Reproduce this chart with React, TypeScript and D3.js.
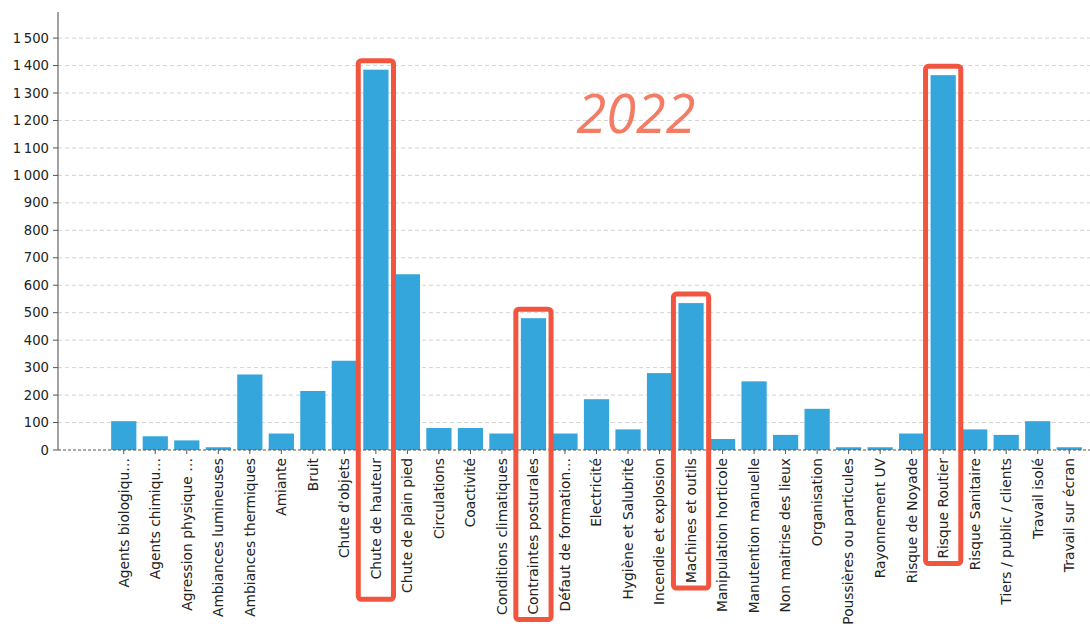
import { useRef, useEffect } from 'react';
import * as d3 from 'd3';

const categories = [
  'Agents biologiqu…',
  'Agents chimiqu…',
  'Agression physique …',
  'Ambiances lumineuses',
  'Ambiances thermiques',
  'Amiante',
  'Bruit',
  "Chute d'objets",
  'Chute de hauteur',
  'Chute de plain pied',
  'Circulations',
  'Coactivité',
  'Conditions climatiques',
  'Contraintes posturales',
  'Défaut de formation…',
  'Electricité',
  'Hygiène et Salubrité',
  'Incendie et explosion',
  'Machines et outils',
  'Manipulation horticole',
  'Manutention manuelle',
  'Non maitrise des lieux',
  'Organisation',
  'Poussières ou particules',
  'Rayonnement UV',
  'Risque de Noyade',
  'Risque Routier',
  'Risque Sanitaire',
  'Tiers / public / clients',
  'Travail isolé',
  'Travail sur écran',
];
const counts = [
  105, 50, 35, 10, 275, 60, 215, 325, 1385, 640, 80, 80, 60, 480, 60, 185, 75, 280, 535, 40, 250, 55,
  150, 10, 10, 60, 1365, 75, 55, 105, 10,
];
const yTicks = [0, 100, 200, 300, 400, 500, 600, 700, 800, 900, 1000, 1100, 1200, 1300, 1400, 1500];
const highlighted = ['Chute de hauteur', 'Contraintes posturales', 'Machines et outils', 'Risque Routier'];
const yearLabel = '2022';

const width = 1090;
const height = 640;

export default function App() {
  const ref = useRef<SVGSVGElement>(null);

  useEffect(() => {
    document.body.style.margin = '0';
    const svg = d3.select(ref.current);
    svg.selectAll('*').remove();

    const x = d3.scaleBand().domain(categories).range([108, 1085]).paddingInner(0.2).paddingOuter(0.1);
    const y = d3.scaleLinear().domain([0, 1595]).range([450, 12]);
    const fmt = d3.formatLocale({ decimal: ',', thousands: '\u2009', grouping: [3], currency: ['', '€'] }).format(',d');

    // grille
    svg
      .append('g')
      .selectAll('line')
      .data(yTicks.filter((d) => d > 0))
      .join('line')
      .attr('x1', 58)
      .attr('x2', width)
      .attr('y1', (d) => y(d))
      .attr('y2', (d) => y(d))
      .attr('stroke', '#c8c8c8')
      .attr('stroke-width', 0.8)
      .attr('stroke-dasharray', '4,3');

    // barres
    svg
      .append('g')
      .selectAll('rect')
      .data(categories)
      .join('rect')
      .attr('x', (d) => x(d)!)
      .attr('width', x.bandwidth())
      .attr('y', (_, i) => y(counts[i]))
      .attr('height', (_, i) => y(0) - y(counts[i]))
      .attr('fill', '#34a6dc');

    // ligne de base
    svg
      .append('line')
      .attr('x1', 58)
      .attr('x2', width)
      .attr('y1', y(0))
      .attr('y2', y(0))
      .attr('stroke', '#555')
      .attr('stroke-width', 1)
      .attr('stroke-dasharray', '3,2');

    // axe Y
    const gy = svg.append('g').attr('transform', 'translate(58,0)');
    gy.append('line').attr('x1', 0).attr('x2', 0).attr('y1', 12).attr('y2', y(0)).attr('stroke', '#666').attr('stroke-width', 1.2);
    const yt = gy.selectAll('g.t').data(yTicks).join('g').attr('class', 't').attr('transform', (d) => `translate(0,${y(d)})`);
    yt.append('line').attr('x1', -5).attr('x2', 0).attr('stroke', '#555');
    yt.append('text')
      .attr('x', -9)
      .attr('dy', '0.35em')
      .attr('text-anchor', 'end')
      .attr('font-family', 'DejaVu Sans')
      .attr('font-size', 13.2)
      .attr('fill', '#222')
      .text((d) => fmt(d));

    // axe X
    const xt = svg
      .append('g')
      .selectAll('g')
      .data(categories)
      .join('g')
      .attr('transform', (d) => `translate(${x(d)! + x.bandwidth() / 2},${y(0)})`);
    xt.append('line').attr('y1', 0).attr('y2', 4).attr('stroke', '#555');
    const labels = xt
      .append('text')
      .attr('transform', 'translate(0,8) rotate(-90)')
      .attr('dy', '0.35em')
      .attr('text-anchor', 'end')
      .attr('font-family', 'DejaVu Sans')
      .attr('font-size', 13.8)
      .attr('fill', '#222')
      .text((d) => d);

    const lengths = new Map<string, number>();
    labels.each(function (d) {
      lengths.set(d as string, (this as SVGTextElement).getComputedTextLength());
    });

    // encadrés
    svg
      .append('g')
      .selectAll('rect')
      .data(highlighted)
      .join('rect')
      .attr('x', (d) => x(d)! - 5)
      .attr('width', x.bandwidth() + 10)
      .attr('y', (d) => y(counts[categories.indexOf(d)]) - 9)
      .attr('height', (d) => y(0) + 8 + lengths.get(d)! + (d === 'Chute de hauteur' ? 20 : 5) - (y(counts[categories.indexOf(d)]) - 9))
      .attr('rx', 3)
      .attr('fill', 'none')
      .attr('stroke', '#f2553f')
      .attr('stroke-width', 5);

    svg
      .append('text')
      .attr('x', 636)
      .attr('y', 133)
      .attr('text-anchor', 'middle')
      .attr('font-family', 'Open Sans')
      .attr('font-style', 'italic')
      .attr('font-size', 54)
      .attr('fill', '#f47c64')
      .text(yearLabel);
  }, []);

  return <svg ref={ref} width={width} height={height} style={{ display: 'block', background: '#fff' }} />;
}
